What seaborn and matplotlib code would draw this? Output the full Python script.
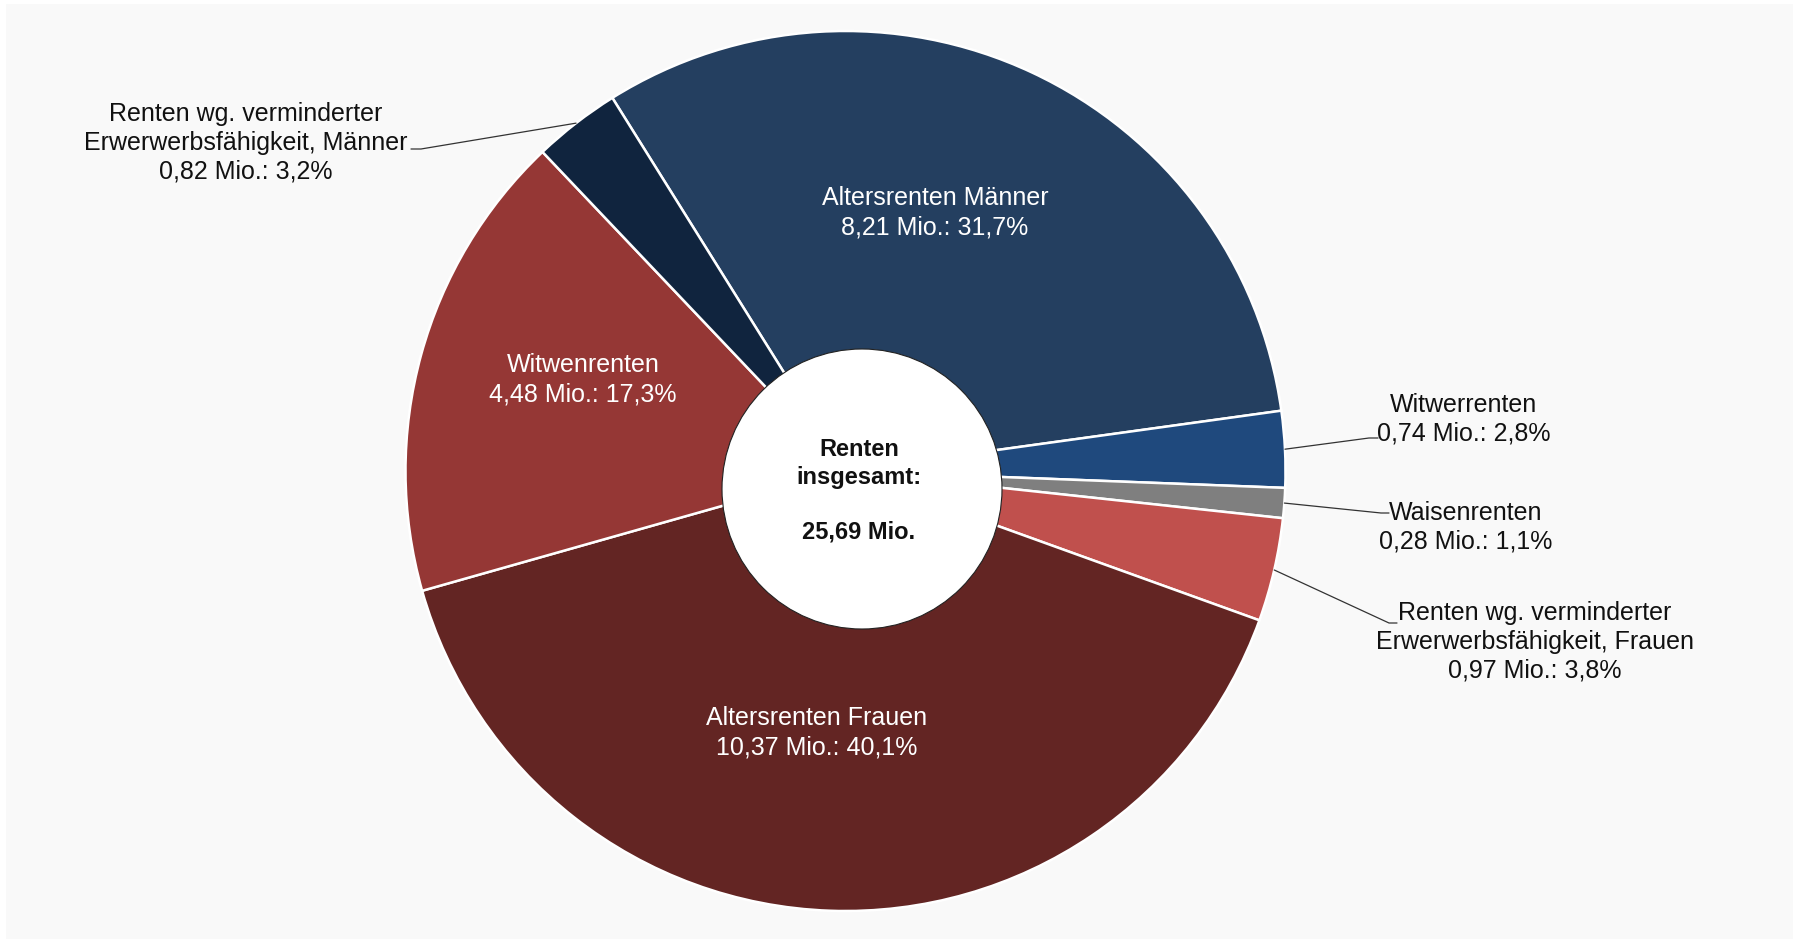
import matplotlib
matplotlib.use("Agg")
import matplotlib.pyplot as plt
import seaborn as sns
import numpy as np
from matplotlib.patches import Circle, Rectangle

# ---------------- data ----------------
categories = [
    "Altersrenten Männer",
    "Witwerrenten",
    "Waisenrenten",
    "Renten wg. verminderter\nErwerwerbsfähigkeit, Frauen",
    "Altersrenten Frauen",
    "Witwenrenten",
    "Renten wg. verminderter\nErwerwerbsfähigkeit, Männer",
]
values_mio = [8.21, 0.74, 0.28, 0.97, 10.37, 4.48, 0.82]
shares_pct = [31.7, 2.8, 1.1, 3.8, 40.1, 17.3, 3.2]
total_mio = "25,69"
colors = ["#243F60", "#1F497D", "#7F7F7F", "#C0504D", "#632523", "#953735", "#10243E"]

# ---------------- style ----------------
sns.set_theme(style="white")
plt.rcParams["font.family"] = ["Liberation Sans", "DejaVu Sans"]

W, H = 1793, 943
fig = plt.figure(figsize=(W / 100, H / 100), dpi=100, facecolor="white")
bg = Rectangle((6 / W, 4 / H), (W - 6) / W, (H - 8) / H,
               transform=fig.transFigure, facecolor="#f9f9f9",
               edgecolor="none", zorder=-10)
fig.patches.append(bg)
ax = fig.add_axes([0, 0, 1, 1])
ax.set_zorder(5)
ax.set_facecolor("none")
ax.patch.set_alpha(0)

cx, cy, R = 845.5, 471.0, 440.0


def px(x, y):
    return ((x - cx) / R, (cy - y) / R)


wedges, _ = ax.pie(shares_pct, colors=colors, startangle=122, counterclock=False,
                   radius=1.0, center=(0, 0),
                   wedgeprops=dict(edgecolor="white", linewidth=1.8))
ax.set_xlim(-cx / R, (W - cx) / R)
ax.set_ylim(-(H - cy) / R, cy / R)
ax.set_aspect("auto")
ax.axis("off")

# centre hole
ccx, ccy = px(862, 489)
ax.add_patch(Circle((ccx, ccy), 140 / R, facecolor="white", edgecolor="#222222",
                    linewidth=0.8, zorder=5))
ax.text(px(859, 0)[0], px(0, 491)[1], f"Renten\ninsgesamt:\n\n{total_mio} Mio.",
        ha="center", va="center", fontsize=17, fontweight="bold", color="#111111",
        linespacing=1.25, zorder=6)


def fmt(v, p):
    return f"{v:.2f}".replace(".", ",") + " Mio.: " + f"{p:.1f}".replace(".", ",") + "%"


# label layout (pixel positions); inside labels white, outside with leaders
inside = {0: (935, 213), 4: (817, 733), 5: (583, 380)}
outside = {
    1: dict(text=(1464, 419), knee=(1369, 438), end=(1378, 438)),
    2: dict(text=(1466, 527), knee=(1381, 513), end=(1389, 513)),
    3: dict(text=(1535, 642), knee=(1389, 623), end=(1397, 623)),
    6: dict(text=(246, 143), knee=(421, 149), end=(411, 149)),
}

for i, (cat, v, p) in enumerate(zip(categories, values_mio, shares_pct)):
    label = f"{cat}\n{fmt(v, p)}"
    if i in inside:
        x, y = px(*inside[i])
        ax.text(x, y, label, ha="center", va="center", fontsize=18, color="white",
                linespacing=1.3, zorder=6)
    else:
        o = outside[i]
        w = wedges[i]
        mid = np.deg2rad((w.theta1 + w.theta2) / 2)
        ex, ey = np.cos(mid) * w.r, np.sin(mid) * w.r
        kx, ky = px(*o["knee"])
        tx, ty = px(*o["end"])
        ax.plot([ex, kx, tx], [ey, ky, ty], color="#333333", lw=0.9, zorder=4)
        x, y = px(*o["text"])
        ax.text(x, y, label, ha="center", va="center", fontsize=18, color="#111111",
                linespacing=1.25, zorder=6)

fig.savefig("out.png", dpi=100, facecolor=fig.get_facecolor())
